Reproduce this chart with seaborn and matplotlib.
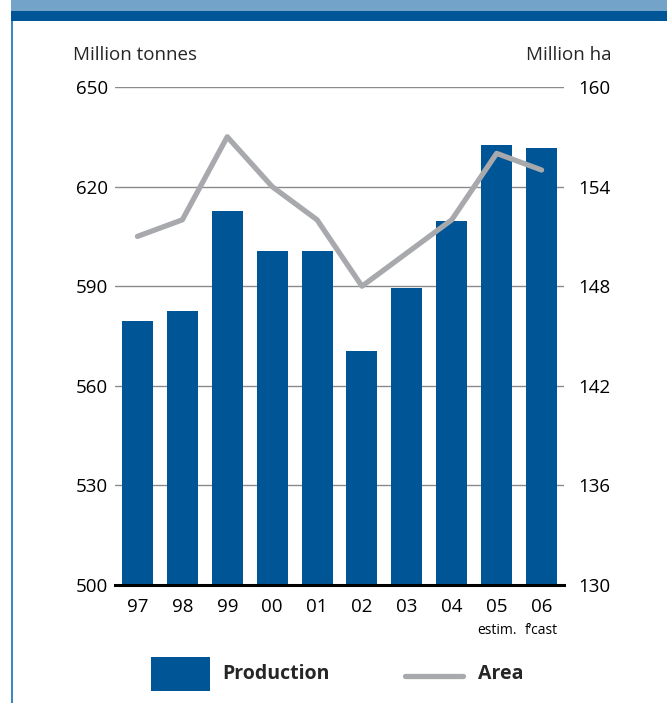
import numpy as np
import pandas as pd
import matplotlib
matplotlib.use("Agg")
import matplotlib.pyplot as plt
import seaborn as sns
from matplotlib.patches import Rectangle
from matplotlib.lines import Line2D

years = ["97", "98", "99", "00", "01", "02", "03", "04", "05", "06"]
sub_labels = ["", "", "", "", "", "", "", "", "estim.", "f\u2019cast"]
production = [579.5, 582.5, 612.5, 600.5, 600.5, 570.5, 589.5, 609.5, 632.5, 631.5]  # million tonnes
area = [151.0, 152.0, 157.0, 154.0, 152.0, 148.0, 150.0, 152.0, 156.0, 155.0]  # million ha

left_ticks = [500, 530, 560, 590, 620, 650]
right_ticks = [130, 136, 142, 148, 154, 160]

BAR_BLUE = "#005597"
LINE_GREY = "#a7a9ac"
BAND_LIGHT = "#74a3c9"
BAND_DARK = "#005597"
BORDER_BLUE = "#3f86c0"

sns.set_theme(style="white")
plt.rcParams["font.family"] = ["Open Sans", "DejaVu Sans"]

W, H = 667, 703
fig = plt.figure(figsize=(W / 100, H / 100), dpi=100)
fig.patch.set_facecolor("white")

ax = fig.add_axes([115 / W, 1 - 585 / H, (564 - 115) / W, (585 - 87) / H])
df = pd.DataFrame({"year": years, "production": production})
sns.barplot(data=df, x="year", y="production", color=BAR_BLUE, saturation=1,
            width=0.69, linewidth=0, ax=ax, zorder=3)
ax.set_xlim(-0.5, len(years) - 0.5)
ax.set_ylim(left_ticks[0], left_ticks[-1])
ax.set_yticks(left_ticks)
ax.set_xlabel("")
ax.set_ylabel("")
ax.yaxis.grid(True, color="#8a8a8a", linewidth=1.0, zorder=0)
ax.set_axisbelow(True)
for s in ["top", "left", "right"]:
    ax.spines[s].set_visible(False)
ax.spines["bottom"].set_color("black")
ax.spines["bottom"].set_linewidth(2.2)
ax.spines["bottom"].set_zorder(5)
ax.tick_params(axis="both", length=0, labelsize=13.5, colors="black")
ax.tick_params(axis="y", pad=5)
ax.tick_params(axis="x", pad=9)

ax2 = ax.twinx()
sns.lineplot(x=np.arange(len(years)), y=area, color=LINE_GREY, linewidth=3.8,
             ax=ax2, zorder=4)
ax2.set_ylim(right_ticks[0], right_ticks[-1])
ax2.set_yticks(right_ticks)
ax2.set_ylabel("")
for s in ["top", "left", "right", "bottom"]:
    ax2.spines[s].set_visible(False)
ax2.tick_params(axis="y", length=0, labelsize=13.5, pad=10, colors="black")
ax2.grid(False)

# second line under the last two year labels
for i, t in enumerate(sub_labels):
    if t:
        ax.text(i, -0.091, t, transform=ax.get_xaxis_transform(), ha="center",
                va="center", fontsize=10, color="black")

# axis titles
fig.text(73 / W, 1 - 55 / H, "Million tonnes", ha="left", va="center", fontsize=13.5)
fig.text(611 / W, 1 - 55 / H, "Million ha", ha="right", va="center", fontsize=13.5)

# header band and left rule
fig.add_artist(Rectangle((11 / W, 1 - 11 / H), 1, 11 / H, transform=fig.transFigure,
                         facecolor=BAND_LIGHT, edgecolor="none"))
fig.add_artist(Rectangle((11 / W, 1 - 21 / H), 1, 10 / H, transform=fig.transFigure,
                         facecolor=BAND_DARK, edgecolor="none"))
fig.add_artist(Rectangle((11 / W, 0), 2 / W, 1 - 21 / H, transform=fig.transFigure,
                         facecolor=BORDER_BLUE, edgecolor="none"))

# legend
fig.add_artist(Rectangle((151 / W, 1 - 691 / H), 59 / W, 34 / H, transform=fig.transFigure,
                         facecolor=BAR_BLUE, edgecolor="none"))
fig.text(222 / W, 1 - 674 / H, "Production", ha="left", va="center",
         fontsize=14, fontweight="bold")
fig.add_artist(Line2D([405 / W, 463 / W], [1 - 676 / H, 1 - 676 / H], transform=fig.transFigure,
                      color=LINE_GREY, linewidth=3.8, solid_capstyle="round"))
fig.text(478 / W, 1 - 674 / H, "Area", ha="left", va="center",
         fontsize=14, fontweight="bold")

fig.savefig("out.png", dpi=100)
